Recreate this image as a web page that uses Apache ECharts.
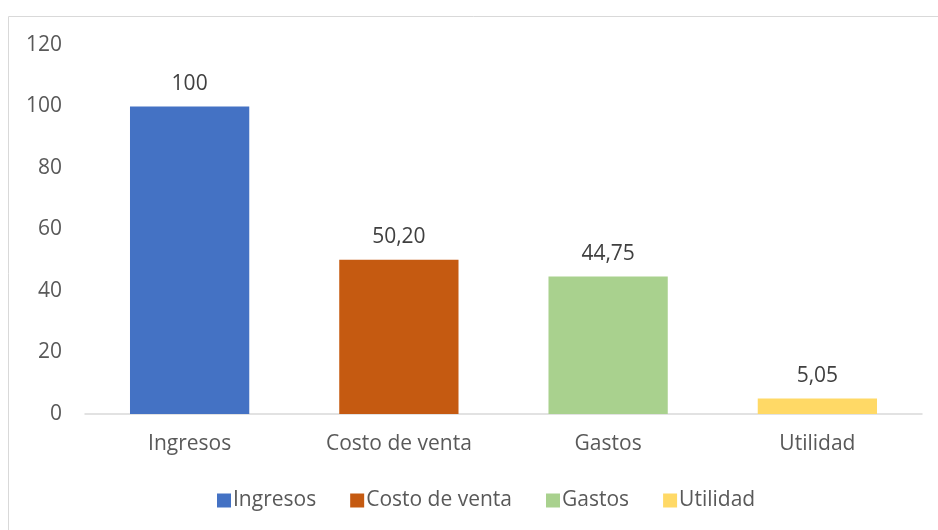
<!DOCTYPE html>
<html>
<head>
<meta charset="utf-8">
<script src="https://cdn.jsdelivr.net/npm/echarts@6/dist/echarts.min.js"></script>
<style>html,body{margin:0;padding:0;background:#fff;}#c{width:938px;height:530px;}</style>
</head>
<body>
<div id="c"></div>
<script>
var categories = ['Ingresos', 'Costo de venta', 'Gastos', 'Utilidad'];
var values = [100, 50.20, 44.75, 5.05];
var colors = ['#4472C4', '#C55A11', '#A9D18E', '#FFD966'];
var yTicks = {min: 0, max: 120, interval: 20};

function fmt(v) {
  return Number.isInteger(v) ? String(v) : v.toFixed(2).replace('.', ',');
}

var FONT = '"Open Sans", sans-serif';
var FS = 21;
var series = categories.map(function (name, i) {
  var d = categories.map(function (_, j) { return j === i ? values[i] : '-'; });
  return {
    name: name,
    type: 'bar',
    stack: 'all',
    barWidth: '57%',
    data: d,
    itemStyle: {color: colors[i]},
    label: {
      show: true, position: 'top', distance: 12,
      color: '#404040', fontSize: FS, fontFamily: FONT,
      formatter: function (p) { return fmt(p.value); }
    }
  };
});

var chart = echarts.init(document.getElementById('c'), null, {renderer: 'canvas'});
chart.setOption({
  animation: false,
  graphic: [
    {type: 'line', shape: {x1: 8.5, y1: 16.5, x2: 938, y2: 16.5}, style: {stroke: '#d9d9d9', lineWidth: 1}},
    {type: 'line', shape: {x1: 8.5, y1: 16.5, x2: 8.5, y2: 530}, style: {stroke: '#d9d9d9', lineWidth: 1}}
  ],
  grid: {left: 85, right: 16, top: 45, bottom: 116, containLabel: false},
  legend: {
    bottom: 14, left: 212, itemWidth: 14, itemHeight: 14, itemGap: 34,
    icon: 'rect',
    textStyle: {color: '#595959', fontSize: FS, fontFamily: FONT, padding: [0, 0, 0, -3]},
    data: categories
  },
  xAxis: {
    type: 'category', data: categories,
    axisLine: {lineStyle: {color: '#d9d9d9', width: 1.5}},
    axisTick: {show: false},
    axisLabel: {color: '#595959', fontSize: FS, fontFamily: FONT, margin: 20}
  },
  yAxis: {
    type: 'value', min: yTicks.min, max: yTicks.max, interval: yTicks.interval,
    axisLine: {show: false}, axisTick: {show: false}, splitLine: {show: false},
    axisLabel: {color: '#595959', fontSize: FS, fontFamily: FONT, margin: 23}
  },
  series: series
});
</script>
</body>
</html>
